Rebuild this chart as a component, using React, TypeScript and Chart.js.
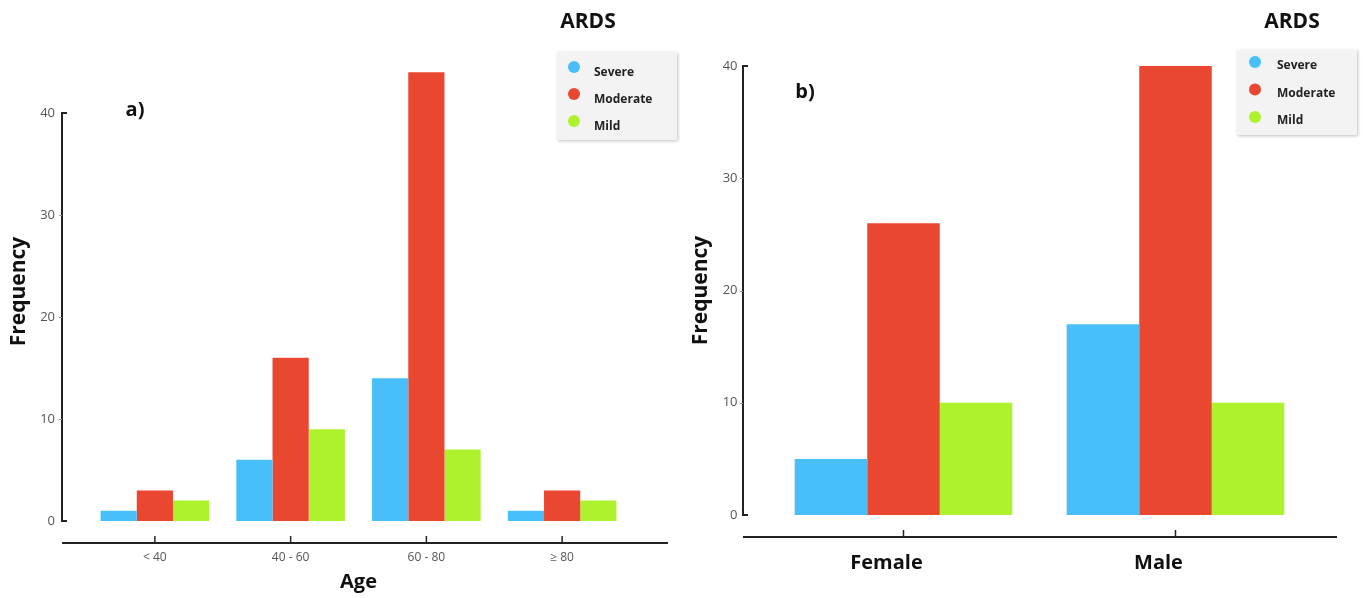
import React, { useEffect, useRef } from 'react';
import { Chart, registerables } from 'chart.js';

Chart.register(...registerables);

const seriesNames = ['Severe', 'Moderate', 'Mild'];
const seriesColors = ['#48BFF8', '#EA4730', '#ADF22C'];

const ageCategories = ['< 40', '40 - 60', '60 - 80', '≥ 80'];
const ageSevere = [1, 6, 14, 1];
const ageModerate = [3, 16, 44, 3];
const ageMild = [2, 9, 7, 2];

const sexCategories = ['Female', 'Male'];
const sexSevere = [5, 17];
const sexModerate = [26, 40];
const sexMild = [10, 10];

const yTickMax = 40;
const yTickStep = 10;

const FONT = "'Open Sans', 'DejaVu Sans', sans-serif";

const decoPlugin = {
  id: 'deco',
  afterDraw(chart: any, _args: any, o: any) {
    const ctx = chart.ctx;
    const ca = chart.chartArea;
    const ys = chart.scales.y;
    const xs = chart.scales.x;
    ctx.save();
    // y axis line
    const ax = ca.left - o.gapLeft;
    const y0 = ys.getPixelForValue(0);
    const y40 = ys.getPixelForValue(yTickMax);
    ctx.strokeStyle = '#222';
    ctx.lineWidth = 2;
    ctx.beginPath();
    ctx.moveTo(ax + 5, y40);
    ctx.lineTo(ax, y40);
    ctx.lineTo(ax, y0);
    ctx.lineTo(ax + 5, y0);
    ctx.stroke();
    ctx.strokeStyle = '#999';
    ctx.lineWidth = 1;
    for (let v = yTickStep; v < yTickMax; v += yTickStep) {
      const py = Math.round(ys.getPixelForValue(v)) + 0.5;
      ctx.beginPath();
      ctx.moveTo(ax - 3, py);
      ctx.lineTo(ax, py);
      ctx.stroke();
    }
    // x axis line
    const by = ca.bottom + o.gapBottom;
    ctx.strokeStyle = '#222';
    ctx.lineWidth = 2;
    ctx.beginPath();
    ctx.moveTo(ax, by);
    ctx.lineTo(ca.right + o.extendRight, by);
    ctx.stroke();
    ctx.lineWidth = 1.5;
    xs.ticks.forEach((_t: any, i: number) => {
      const px = xs.getPixelForTick(i);
      ctx.beginPath();
      ctx.moveTo(px, by);
      ctx.lineTo(px, by - 7);
      ctx.stroke();
    });
    // panel label
    ctx.fillStyle = '#111';
    ctx.font = `bold 20px ${FONT}`;
    ctx.textAlign = 'center';
    ctx.textBaseline = 'middle';
    ctx.fillText(o.panelLabel, o.labelX, o.labelY);
    // title
    ctx.font = `bold 21px ${FONT}`;
    ctx.fillText(o.title, o.titleX, o.titleY);
    // legend box
    const b = o.box;
    ctx.save();
    ctx.shadowColor = 'rgba(0,0,0,0.25)';
    ctx.shadowBlur = 3;
    ctx.shadowOffsetX = 1;
    ctx.shadowOffsetY = 1;
    ctx.fillStyle = '#f3f3f3';
    ctx.fillRect(b.x, b.y, b.w, b.h);
    ctx.restore();
    ctx.textAlign = 'left';
    chart.data.datasets.forEach((ds: any, i: number) => {
      const cy = o.dotY + i * o.step;
      ctx.fillStyle = ds.backgroundColor;
      ctx.beginPath();
      ctx.arc(o.dotX, cy, 6, 0, Math.PI * 2);
      ctx.fill();
      ctx.fillStyle = '#222';
      ctx.font = `bold 12px ${FONT}`;
      ctx.fillText(ds.label, o.textX, cy + o.textDy);
    });
    ctx.restore();
  },
};

type Spec = {
  width: number;
  categories: string[];
  values: number[][];
  yMax: number;
  top: number;
  right: number;
  yWidth: number;
  xHeight: number;
  yPad: number;
  yTitlePad: number;
  xLabelFont: any;
  xLabelColor: string;
  xLabelPad: number;
  xLabelOffset: number;
  xTitle: string;
  deco: any;
};

function Panel({ spec }: { spec: Spec }) {
  const ref = useRef<HTMLCanvasElement>(null);
  useEffect(() => {
    if (!ref.current) return;
    const chart = new Chart(ref.current, {
      type: 'bar',
      data: {
        labels: spec.categories,
        datasets: spec.values.map((vals, i) => ({
          label: seriesNames[i],
          data: vals,
          backgroundColor: seriesColors[i],
          borderWidth: 0,
          categoryPercentage: 0.8,
          barPercentage: 1.0,
        })),
      },
      options: {
        responsive: false,
        animation: false,
        devicePixelRatio: 1,
        layout: { padding: { top: spec.top, right: spec.right, left: 0, bottom: 0 } },
        plugins: {
          legend: { display: false },
          title: { display: false },
          tooltip: { enabled: false },
          deco: spec.deco,
        } as any,
        scales: {
          x: {
            grid: { display: false, drawTicks: false },
            border: { display: false },
            ticks: { font: spec.xLabelFont, color: spec.xLabelColor, padding: spec.xLabelPad, maxRotation: 0, labelOffset: spec.xLabelOffset },
            title: spec.xTitle
              ? { display: true, text: spec.xTitle, color: '#111', font: { family: FONT, size: 20, weight: 'bold' }, padding: { top: 0, bottom: 4 } }
              : { display: false },
            afterFit: (s: any) => { s.height = spec.xHeight; },
          },
          y: {
            min: 0,
            max: spec.yMax,
            grid: { display: false, drawTicks: false },
            border: { display: false },
            ticks: { stepSize: yTickStep, font: { family: FONT, size: 13 }, color: '#555', padding: spec.yPad },
            afterBuildTicks: (s: any) => { s.ticks = s.ticks.filter((t: any) => t.value <= yTickMax); },
            title: { display: true, text: 'Frequency', color: '#111', font: { family: FONT, size: 21, weight: 'bold' }, padding: { top: spec.yTitlePad, bottom: 0 } },
            afterFit: (s: any) => { s.width = spec.yWidth; },
          },
        },
      } as any,
      plugins: [decoPlugin],
    });
    return () => chart.destroy();
  }, [spec]);
  return <canvas ref={ref} width={spec.width} height={598} style={{ width: spec.width, height: 598, display: 'block' }} />;
}

const leftSpec: Spec = {
  width: 680,
  categories: ageCategories,
  values: [ageSevere, ageModerate, ageMild],
  yMax: 45,
  top: 62,
  right: 50,
  yWidth: 87,
  xHeight: 77,
  yPad: 32,
  yTitlePad: 6,
  xLabelFont: { family: FONT, size: 12 },
  xLabelColor: '#555',
  xLabelPad: 29,
  xLabelOffset: 0,
  xTitle: 'Age',
  deco: {
    gapLeft: 25, gapBottom: 22, extendRight: 38,
    panelLabel: 'a)', labelX: 135, labelY: 110,
    title: 'ARDS', titleX: 588, titleY: 22,
    box: { x: 557, y: 52, w: 120, h: 88 },
    dotX: 574, dotY: 67, step: 27, textX: 594, textDy: 6,
  },
};

const rightSpec: Spec = {
  width: 683,
  categories: sexCategories,
  values: [sexSevere, sexModerate, sexMild],
  yMax: 40,
  top: 66,
  right: 51.5,
  yWidth: 87.5,
  xHeight: 83,
  yPad: 30,
  yTitlePad: 8,
  xLabelFont: { family: FONT, size: 20, weight: 'bold' },
  xLabelColor: '#111',
  xLabelPad: 36,
  xLabelOffset: -17,
  xTitle: '',
  deco: {
    gapLeft: 24.5, gapBottom: 22, extendRight: 25.5,
    panelLabel: 'b)', labelX: 125, labelY: 92,
    title: 'ARDS', titleX: 612, titleY: 22,
    box: { x: 557, y: 50, w: 120, h: 85 },
    dotX: 575, dotY: 62, step: 27.5, textX: 597, textDy: 4,
  },
};

export default function App() {
  return (
    <div style={{ position: 'fixed', left: 0, top: 0, width: 1363, height: 598, background: '#fff', display: 'flex' }}>
      <Panel spec={leftSpec} />
      <Panel spec={rightSpec} />
    </div>
  );
}
